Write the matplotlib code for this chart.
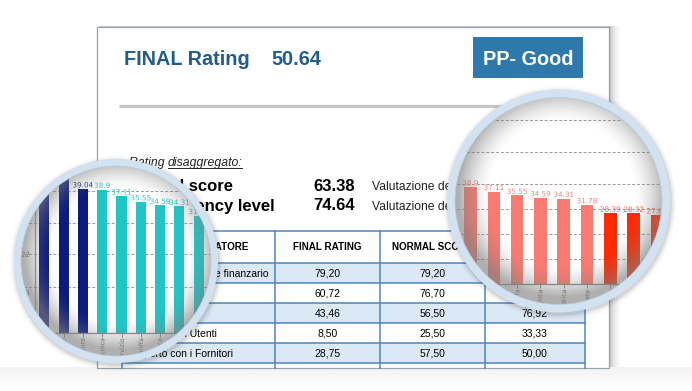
import numpy as np
import matplotlib.pyplot as plt
from matplotlib.patches import Rectangle, Circle, PathPatch
from matplotlib.textpath import TextPath
from matplotlib.font_manager import FontProperties
from matplotlib.transforms import Affine2D, IdentityTransform

plt.rcParams['font.family'] = ['Liberation Sans', 'DejaVu Sans']

W, H = 692, 391
DPI = 100

# bar chart shown inside both magnifier lenses
categories = ["Acquedotto", "Depurazione", "Fognatura", "Qualità tecnica", "Continuità servizio",
              "Tariffa", "Efficienza energetica", "Rete idrica", "Perdite di rete",
              "Customer care", "Investimenti", "Morosità"]
values = [45.6, 42.9, 39.04, 38.9, 37.11, 35.55, 34.59, 34.31, 31.78, 28.39, 28.32, 27.68]
bar_labels = ["45.6", "42.9", "39.04", "38.9", "37.11", "35.55", "34.59", "34.31",
              "31.78", "28.39", "28.32", "27.68"]
left_grid = [12.5, 21.3, 29.9, 38.5]
left_yticks = [10.8, 21.3]
left_ytick_labels = ["13", "22"]
right_grid = [10, 20, 30, 40, 53, 66]

# document header
title_label = "FINAL Rating"
title_value = "50.64"
badge_label = "PP- Good"
score_names = ["Normal score", "Efficiency level"]
score_values = ["63.38", "74.64"]
score_notes = ["Valutazione della performance", "Valutazione dell'efficienza"]

# table
table_header = ["INDICATORE", "FINAL RATING", "NORMAL SCORE", "EFFICIENCY"]
row_names = ["Rischio economico e finanzario", "Qualità", "Servizio",
             "Rapporto con Utenti", "Rapporto con i Fornitori"]
final_rating = ["79,20", "60,72", "43,46", "8,50", "28,75"]
normal_score = ["79,20", "76,70", "56,50", "25,50", "57,50"]
efficiency = ["79,20", "44,74", "76,92", "33,33", "50,00"]

BLUE = '#1f5d8c'
LINE = '#4a86c5'
ROWFILL = '#dbe8f6'

fig = plt.figure(figsize=(W / DPI, H / DPI), dpi=DPI)
ax = fig.add_axes([0, 0, 1, 1])
ax.set_xlim(0, W)
ax.set_ylim(H, 0)
ax.axis('off')

# floor shadow under the sheet
floor = np.linspace(0.08, 0.0, 40)[:, None] * np.ones((1, 10))
ax.imshow(np.dstack([np.full_like(floor, 0.4)] * 3 + [floor]), extent=(0, W, H, 367),
          aspect='auto', zorder=0, interpolation='bilinear')
# sheet shadow and sheet
for k, a in enumerate([0.10, 0.07, 0.05, 0.035, 0.02, 0.01]):
    ax.add_patch(Rectangle((97 + 2, 27 - 1), 512 + 2 * k, 341, facecolor='#303030',
                           edgecolor='none', alpha=a, zorder=1))
ax.add_patch(Rectangle((97, 27), 512, 341, facecolor='white', edgecolor='#98a3ad', lw=0.9, zorder=2))

# title + badge
ax.text(124, 65, title_label, fontsize=14.3, fontweight='bold', color=BLUE, va='baseline', zorder=3)
ax.text(271, 65, title_value, fontsize=14.3, fontweight='bold', color=BLUE, va='baseline', zorder=3)
ax.add_patch(Rectangle((473, 37), 110, 41, facecolor='#2e78ab', edgecolor='none', zorder=3))
ax.text(528, 65, badge_label, fontsize=14.3, fontweight='bold', color='white', ha='center',
        va='baseline', zorder=4)
ax.plot([119, 520], [105.5, 105.5], color='#c6c6c6', lw=2.3, solid_capstyle='butt', zorder=3)

# "Rating disaggregato:"
ax.text(168, 166, "Rating ", fontsize=8.8, style='italic', color='#222222', ha='right',
        va='baseline', zorder=3)
ax.text(168, 166, "disaggregato:", fontsize=8.8, style='italic', color='#222222', va='baseline', zorder=3)
ax.plot([168, 242], [168, 168], color='#222222', lw=0.7, zorder=3)

score_ends = [233, 275]
for i in range(2):
    yb = 191 + 19.5 * i
    ax.text(score_ends[i], yb, score_names[i], fontsize=12, fontweight='bold', color='black',
            ha='right', va='baseline', zorder=3)
    ax.text(313, yb, score_values[i], fontsize=12, fontweight='bold', color='black',
            va='baseline', zorder=3)
    ax.text(371.5, yb - 1, score_notes[i], fontsize=8.7, color='#222222', va='baseline', zorder=3)

# table
col_x = [122, 275, 380, 485, 585]
row_y = [231, 262.7, 282.7, 302.7, 322.7, 342.7, 362.7, 368]
for r in range(5):
    if r % 2 == 0:
        ax.add_patch(Rectangle((col_x[0], row_y[r + 1]), col_x[-1] - col_x[0], 20,
                               facecolor=ROWFILL, edgecolor='none', zorder=2.5))
for y in row_y[:-1]:
    ax.plot([col_x[0], col_x[-1]], [y, y], color=LINE, lw=1.1, zorder=3)
for x in col_x:
    ax.plot([x, x], [row_y[0], 368], color=LINE, lw=1.1, zorder=3)
ax.text(249, 250, table_header[0], fontsize=7.1, fontweight='bold', ha='right', va='baseline', zorder=4)
for c in range(1, 4):
    ax.text((col_x[c] + col_x[c + 1]) / 2, 250, table_header[c], fontsize=7.1, fontweight='bold',
            ha='center', va='baseline', zorder=4)
for r in range(5):
    yc = row_y[r + 1] + 14
    ax.text(125, yc, row_names[r], fontsize=7.5, va='baseline', zorder=4)
    for c, col in enumerate([final_rating, normal_score, efficiency], start=1):
        ax.text((col_x[c] + col_x[c + 1]) / 2, yc, col[r], fontsize=7.5, ha='center',
                va='baseline', zorder=4)

LENS_FONT = FontProperties(family='DejaVu Sans')


def lens_text(lx, x, y, s, size, color, ha='center', va='bottom', rotate=False):
    # text as a path so that it can be clipped to the round lens
    tp = TextPath((0, 0), s, size=size, prop=LENS_FONT)
    e = tp.get_extents()
    if rotate:
        tr = Affine2D().translate(-e.x1, -(e.y0 + e.y1) / 2).rotate_deg(90)
    else:
        dx = {'center': -(e.x0 + e.x1) / 2, 'left': -e.x0, 'right': -e.x1}[ha]
        dy = {'bottom': -e.y0, 'center': -(e.y0 + e.y1) / 2, 'top': -e.y1}[va]
        tr = Affine2D().translate(dx, dy)
    px, py = lx.transData.transform((x, y))
    tr = tr.scale(DPI / 72).translate(px, py)
    p = PathPatch(tr.transform_path(tp), facecolor=color, edgecolor='none',
                  transform=IdentityTransform(), zorder=3)
    lx.add_patch(p)
    return p


def draw_lens(cx, cy, r_out, r_in, x0, step, base_py, ppu, colors, label_colors, grid_vals,
              bar_w, yaxis_px=None):
    # soft drop shadow around the lens
    for k, a in enumerate([0.10, 0.06, 0.035, 0.02]):
        ax.add_patch(Circle((cx + 1, cy + 2), r_out + 1 + 1.5 * k, facecolor='#404040',
                            edgecolor='none', alpha=a, zorder=10))
    lx = fig.add_axes([(cx - r_out) / W, (H - cy - r_out) / H, 2 * r_out / W, 2 * r_out / H])
    lx.axis('off')
    lx.set_autoscale_on(False)
    lx.set_xlim((cx - r_out - x0) / step, (cx + r_out - x0) / step)
    lx.set_ylim((base_py - cy - r_out) / ppu, (base_py - cy + r_out) / ppu)
    clip = Circle((0.5, 0.5), r_in / (2 * r_out), transform=lx.transAxes)
    lx.add_patch(Circle((0.5, 0.5), r_in / (2 * r_out), transform=lx.transAxes,
                        facecolor='white', edgecolor='none', zorder=0))
    arts = []
    idx = np.arange(len(values))
    bars = lx.bar(idx, values, bar_w, color=colors, zorder=2)
    arts += list(bars)
    for g in grid_vals:
        arts.append(lx.axhline(g, color='#9a9a9a', lw=0.7, ls=(0, (3, 2)), zorder=1))
    arts.append(lx.axhline(0, color='#8a8a8a', lw=0.9, zorder=3))
    arts.append(lx.vlines(idx, -4 / ppu, 0, color='#8a8a8a', lw=0.7, zorder=3))
    for i in idx:
        arts.append(lens_text(lx, i, values[i] + 1.5 / ppu, bar_labels[i], 5.2, label_colors[i]))
        arts.append(lens_text(lx, i, -6 / ppu, categories[i], 4.5, '#666666', rotate=True))
    if yaxis_px is not None:
        xa = (yaxis_px - x0) / step
        arts.append(lx.plot([xa, xa], [0, 60], color='#8a8a8a', lw=0.8, zorder=3)[0])
        for t, lab in zip(left_yticks, left_ytick_labels):
            arts.append(lens_text(lx, xa - 0.3, t, lab, 5.2, '#666666', ha='right', va='center'))
    # inner lens shading, a little heavier towards the lower left
    n = 300
    yy, xx = np.mgrid[-1:1:n * 1j, -1:1:n * 1j]
    rn = np.hypot(xx - 0.03, yy + 0.06) * r_out / r_in
    alpha = np.clip((rn - 0.70) / 0.30, 0, 1) ** 1.5 * 0.62
    shade = np.dstack([np.full_like(alpha, 0.5)] * 3 + [alpha])
    arts.append(lx.imshow(shade, extent=(0, 1, 0, 1), transform=lx.transAxes, aspect='auto',
                          zorder=4, interpolation='bilinear'))
    for a in arts:
        a.set_clip_path(clip)
    lx.add_patch(Circle((0.5, 0.5), (r_in + r_out) / 4 / r_out, transform=lx.transAxes,
                        fill=False, edgecolor='#d3e2f0', lw=(r_out - r_in) * 0.72,
                        clip_on=False, zorder=5))
    lx.add_patch(Circle((0.5, 0.5), r_in / (2 * r_out), transform=lx.transAxes,
                        fill=False, edgecolor='#b9cadb', lw=0.5, clip_on=False, zorder=5))
    lx.set_xlim((cx - r_out - x0) / step, (cx + r_out - x0) / step)
    lx.set_ylim((base_py - cy - r_out) / ppu, (base_py - cy + r_out) / ppu)
    return lx


n_bars = len(values)
left_colors = ['#0b1c7c' if i < 3 else '#1fc6c8' for i in range(n_bars)]
left_lab_colors = ['#2c3a8c' if i < 3 else '#2cc4c6' for i in range(n_bars)]
right_colors = ['#fa7a70' if i < 9 else '#ff2a00' for i in range(n_bars)]
right_lab_colors = ['#f3827c' if i < 9 else '#f4604a' for i in range(n_bars)]

draw_lens(116, 261, 102, 95, 44.3, 19.3, 332.7, 3.68, left_colors, left_lab_colors,
          left_grid, 0.52, yaxis_px=35)
draw_lens(558.5, 201, 111.5, 103.5, 400.6, 23.3, 284, 2.49, right_colors, right_lab_colors,
          right_grid, 0.54)

fig.savefig('out.png', dpi=DPI)
